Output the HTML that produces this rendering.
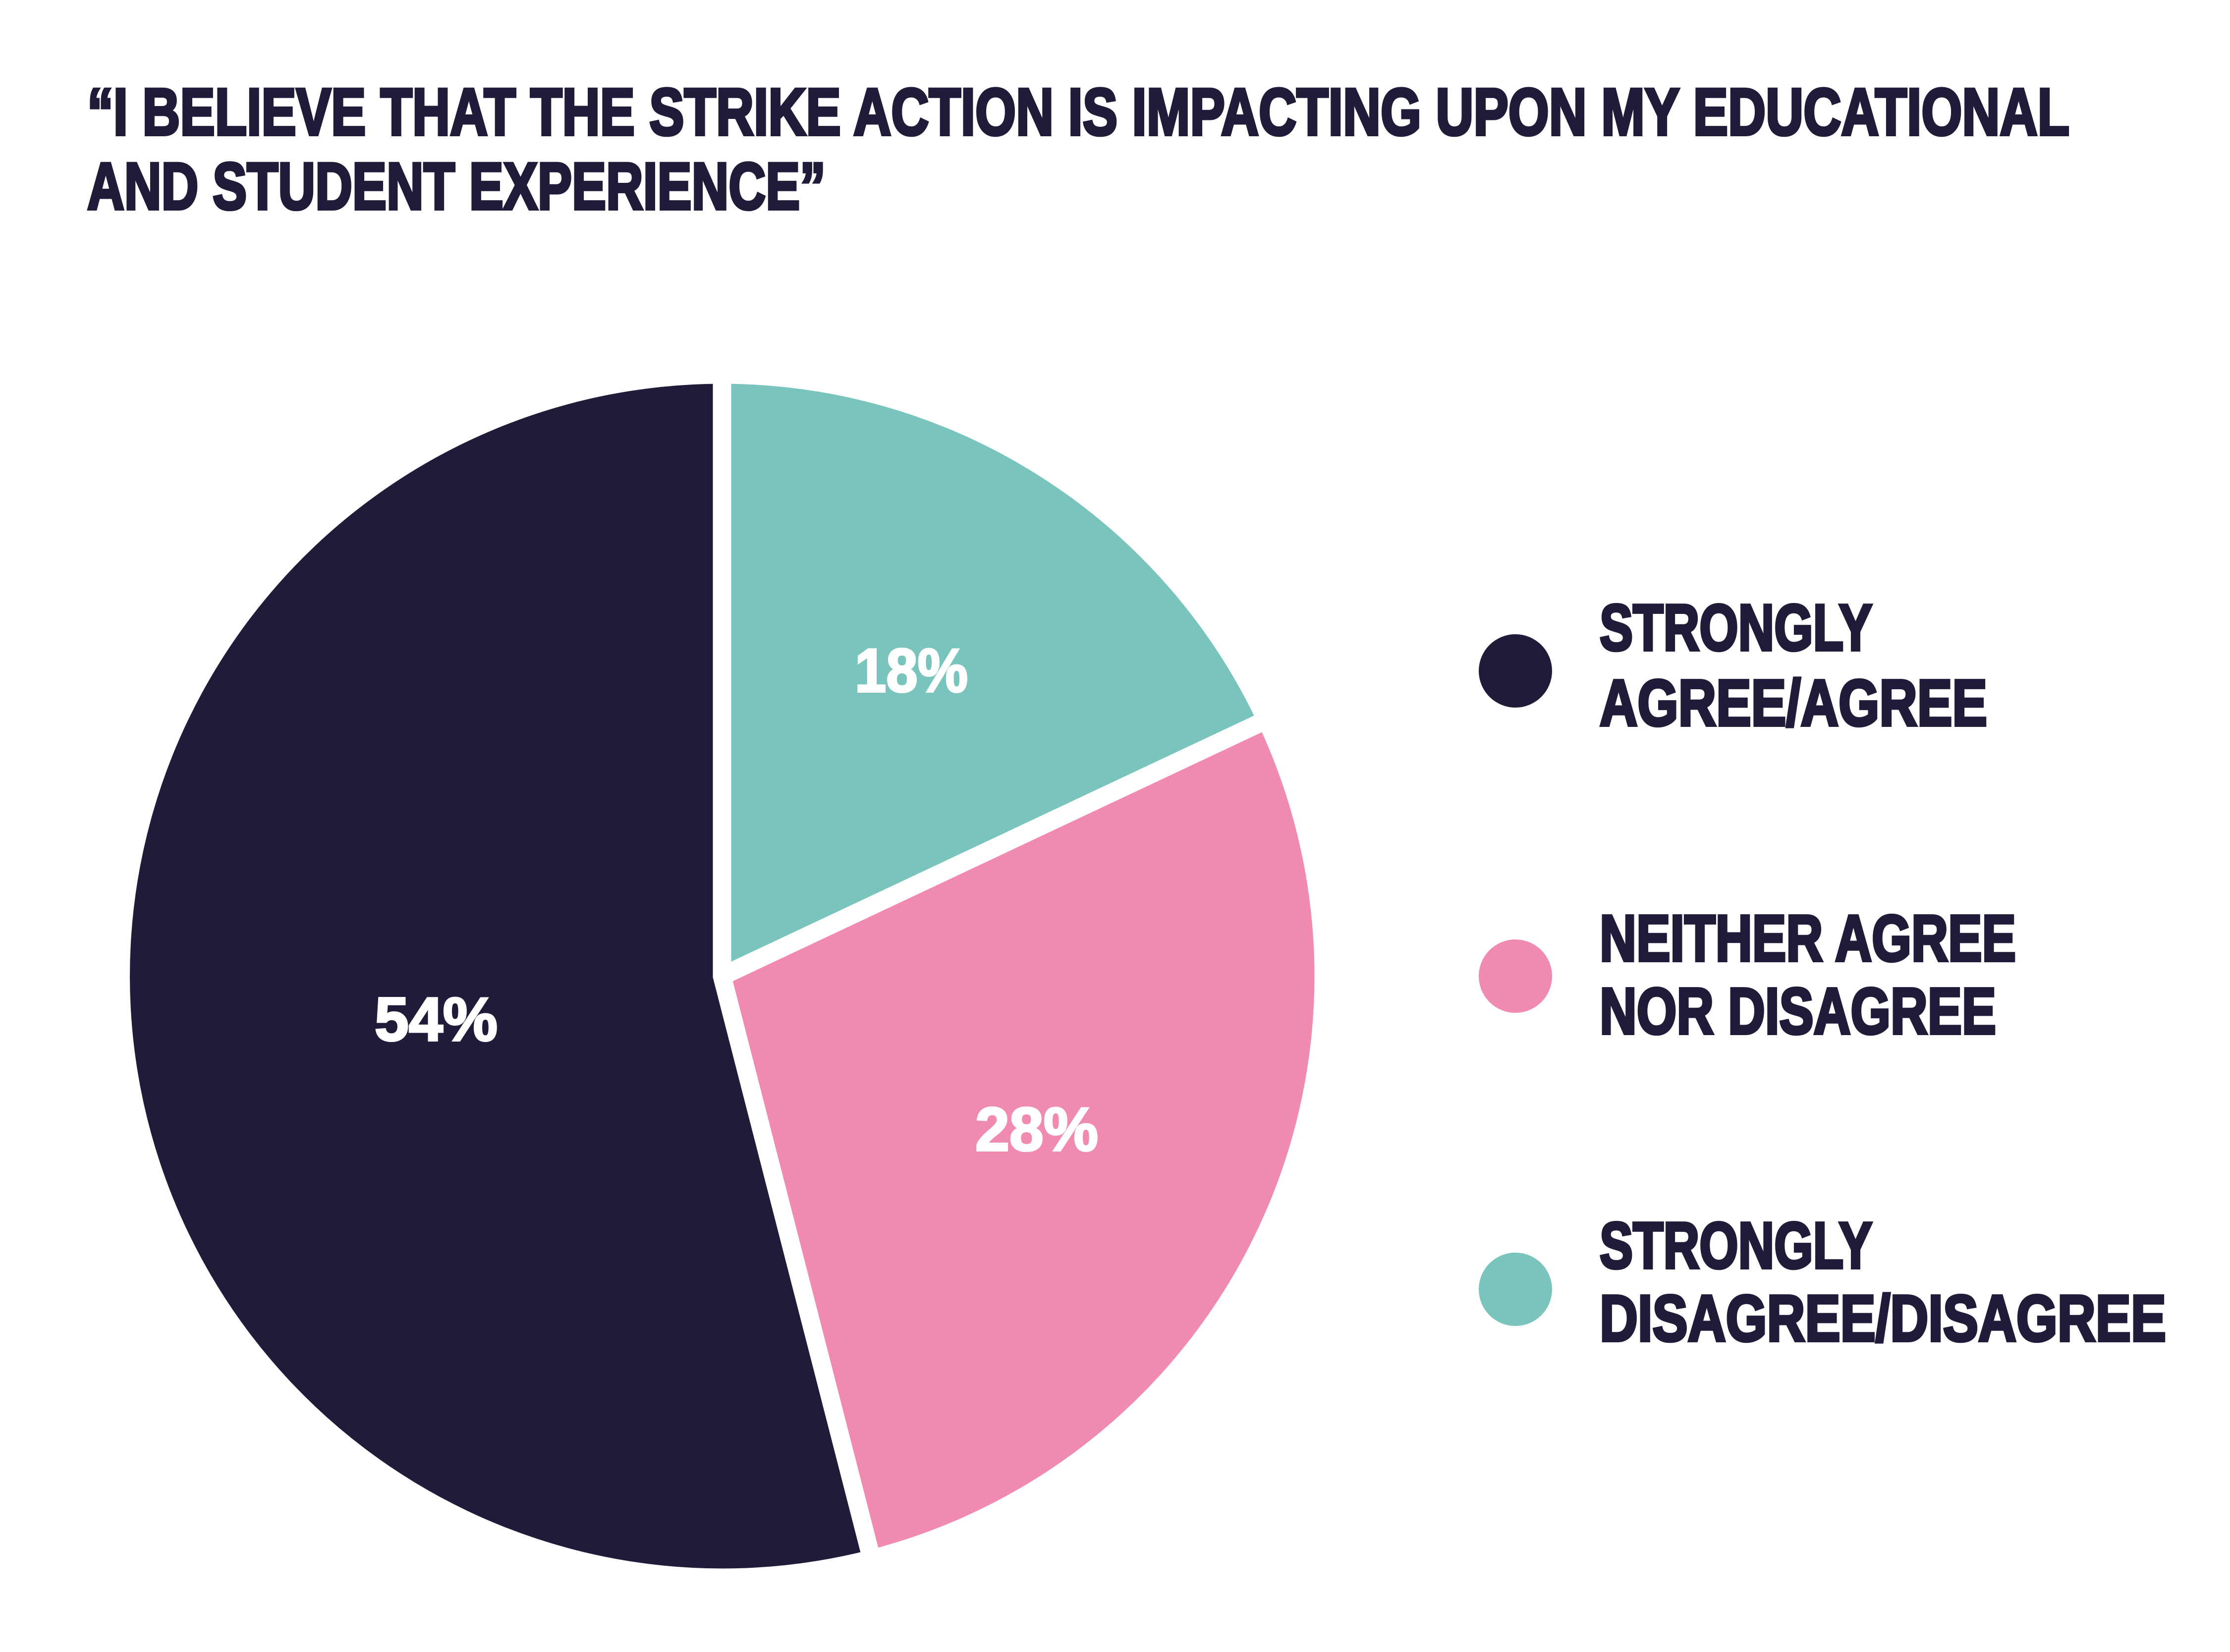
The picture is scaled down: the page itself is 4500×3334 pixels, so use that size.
<!DOCTYPE html>
<html><head><meta charset="utf-8"><style>
html,body{margin:0;padding:0;background:#fff;}
svg{display:block;}
text{font-family:"Liberation Sans",sans-serif;font-weight:bold;}
</style></head><body>
<svg width="4500" height="3334" viewBox="0 0 4500 3334" xmlns="http://www.w3.org/2000/svg">
<rect width="4500" height="3334" fill="#fff"/>
<g fill="#1f1b38" stroke="#1f1b38" stroke-width="6">
<text x="176" y="272" font-size="134" textLength="4000" lengthAdjust="spacingAndGlyphs">“I BELIEVE THAT THE STRIKE ACTION IS IMPACTING UPON MY EDUCATIONAL</text>
<text x="176" y="422" font-size="134" textLength="1490" lengthAdjust="spacingAndGlyphs">AND STUDENT EXPERIENCE”</text>
</g>
<g stroke="#fff" stroke-width="37" stroke-linejoin="miter">
<path d="M1457,1970 L1457,756 A1214,1214 0 0 1 2555.4,1453 Z" fill="#79c5bd"/>
<path d="M1457,1970 L2555.4,1453 A1214,1214 0 0 1 1758.9,3146 Z" fill="#f18ab0"/>
<path d="M1457,1970 L1758.9,3146 A1214,1214 0 1 1 1457,756 Z" fill="#1f1b38"/>
</g>
<g fill="#fff" stroke="#fff" stroke-width="4" font-size="124">
<text x="1725" y="1396" textLength="228" lengthAdjust="spacingAndGlyphs">18%</text>
<text x="756" y="2100" textLength="248" lengthAdjust="spacingAndGlyphs">54%</text>
<text x="1968" y="2322" textLength="248" lengthAdjust="spacingAndGlyphs">28%</text>
</g>
<circle cx="3058" cy="1354" r="74" fill="#1f1b38"/>
<circle cx="3058" cy="1970" r="74" fill="#f18ab0"/>
<circle cx="3058" cy="2602" r="74" fill="#79c5bd"/>
<g fill="#1f1b38" stroke="#1f1b38" stroke-width="6" font-size="132">
<text x="3228" y="1312" textLength="550" lengthAdjust="spacingAndGlyphs">STRONGLY</text>
<text x="3228" y="1464" textLength="782" lengthAdjust="spacingAndGlyphs">AGREE/AGREE</text>
<text x="3228" y="1939" textLength="840" lengthAdjust="spacingAndGlyphs">NEITHER AGREE</text>
<text x="3228" y="2086" textLength="800" lengthAdjust="spacingAndGlyphs">NOR DISAGREE</text>
<text x="3228" y="2559" textLength="550" lengthAdjust="spacingAndGlyphs">STRONGLY</text>
<text x="3228" y="2706" textLength="1143" lengthAdjust="spacingAndGlyphs">DISAGREE/DISAGREE</text>
</g>
</svg>
</body></html>
